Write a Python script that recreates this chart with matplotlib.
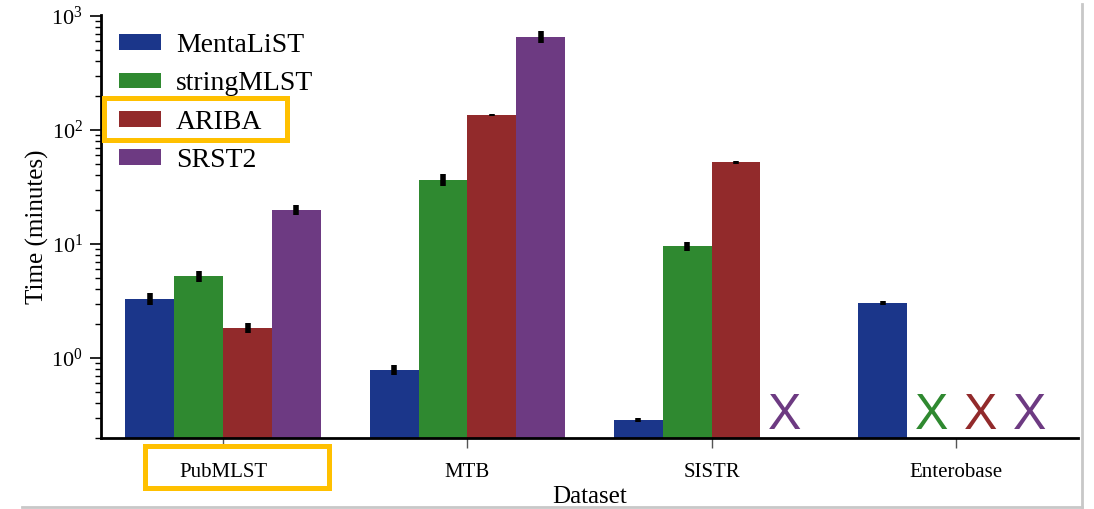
import numpy as np
import matplotlib
matplotlib.use("Agg")
import matplotlib.pyplot as plt
from matplotlib.patches import Rectangle
from matplotlib.lines import Line2D

plt.rcParams['font.family'] = ['Liberation Serif', 'DejaVu Serif']
plt.rcParams['mathtext.fontset'] = 'stix'

datasets = ["PubMLST", "MTB", "SISTR", "Enterobase"]
tools = ["MentaLiST", "stringMLST", "ARIBA", "SRST2"]
colors = ["#1b368a", "#2f8930", "#922a2b", "#6d3a82"]

nan = np.nan
mentalist = [3.3, 0.785, 0.286, 3.04]
stringmlst = [5.2, 36.5, 9.6, nan]
ariba = [1.83, 135, 52, nan]
srst2 = [20.0, 655, nan, nan]
values = [mentalist, stringmlst, ariba, srst2]

mentalist_err = [0.4, 0.08, 0.01, 0.1]
stringmlst_err = [0.55, 4.5, 0.85, nan]
ariba_err = [0.18, 3.0, 1.5, nan]
srst2_err = [2.0, 80, nan, nan]
errors = [mentalist_err, stringmlst_err, ariba_err, srst2_err]

W, H = 1094, 509
fig = plt.figure(figsize=(W / 100, H / 100), dpi=100)
ax = fig.add_axes([101 / W, 1 - 438 / H, (1078 - 101) / W, (438 - 15) / H])

x = np.arange(len(datasets))
width = 0.2
for i, (tool, vals, errs, c) in enumerate(zip(tools, values, errors, colors)):
    pos = x + (i - 1.5) * width
    ax.bar(pos, vals, width, color=c, label=tool, linewidth=0)
    ax.errorbar(pos, vals, yerr=errs, fmt='none', ecolor='black',
                elinewidth=4, capsize=0, solid_capstyle='round')
    for j, v in enumerate(vals):
        if np.isnan(v):
            ax.text(pos[j], 0.052, "X", color=c, transform=ax.get_xaxis_transform(),
                    ha='center', va='center', fontsize=36,
                    family=['Liberation Sans', 'DejaVu Sans'])

ax.set_yscale('log')
ax.set_ylim(0.199, 1020)
ax.set_xlim(-0.5, 3.5)
ax.set_xticks(x)
ax.set_xticklabels(datasets, fontsize=15)
ax.tick_params(axis='y', which='major', labelsize=16, length=8, width=1.2,
               direction='out', pad=5)
ax.tick_params(axis='y', which='minor', length=4.5, width=1.0)
ax.tick_params(axis='x', length=7, width=1.0, pad=11, color='#555555')
for s in ['top', 'right']:
    ax.spines[s].set_visible(False)
for s in ['left', 'bottom']:
    ax.spines[s].set_linewidth(2)
ax.set_xlabel("Dataset", fontsize=18, labelpad=3)
ax.set_ylabel("Time (minutes)", fontsize=18, labelpad=2)

ax.legend(loc='upper left', bbox_to_anchor=(0.0, 1.0), frameon=False, fontsize=20,
          handlelength=1.5, handleheight=0.5, handletextpad=0.55, labelspacing=0.48,
          borderaxespad=0.25)

# highlight boxes
yellow = "#ffc000"
def px_rect(x0, y0, x1, y1):
    fig.patches.append(Rectangle((x0 / W, 1 - y1 / H), (x1 - x0) / W, (y1 - y0) / H,
                                 transform=fig.transFigure, fill=False,
                                 edgecolor=yellow, linewidth=3.6, zorder=10))
px_rect(104, 98, 287, 140)
px_rect(145, 446, 329, 488)

# screenshot border lines
gray = "#c8c8c8"
fig.lines.append(Line2D([1082 / W, 1082 / W], [1 - 507 / H, 1 - 4 / H],
                        transform=fig.transFigure, color=gray, linewidth=2, zorder=0))
fig.lines.append(Line2D([22 / W, 1082 / W], [1 - 507 / H, 1 - 507 / H],
                        transform=fig.transFigure, color=gray, linewidth=2, zorder=0))

fig.savefig("out.png", dpi=100)
